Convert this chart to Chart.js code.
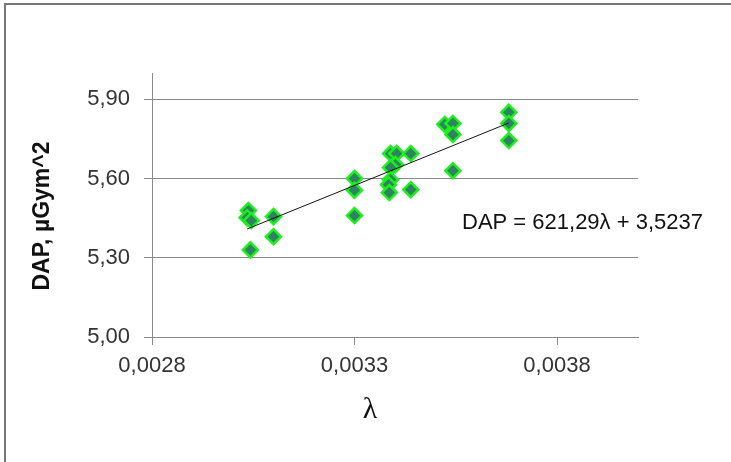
<!DOCTYPE html>
<html>
<head>
<meta charset="utf-8">
<script src="https://cdn.jsdelivr.net/npm/chart.js@4.4.1/dist/chart.umd.min.js"></script>
<style>
  html, body { margin: 0; padding: 0; background: #fff; }
  #wrap { position: relative; width: 731px; height: 462px; }
  #frame { position: absolute; left: 4px; top: 3px; width: 727px; height: 459px;
           border-top: 2px solid #777; border-left: 2px solid #777; box-sizing: border-box; pointer-events: none; }
  canvas { position: absolute; left: 0; top: 0; }
</style>
</head>
<body>
<div id="wrap">
  <canvas id="c" width="731" height="462"></canvas>
  <div id="frame"></div>
</div>
<script>
// ---- data ----
const lambdaValues = [0.003038, 0.003035, 0.003045, 0.003043, 0.0031, 0.0031,
                      0.0033, 0.0033, 0.0033,
                      0.003389, 0.003404, 0.003439, 0.003401, 0.003389, 0.003389, 0.003384, 0.003386, 0.003439,
                      0.003523, 0.003543, 0.003543, 0.003543,
                      0.003681, 0.003681, 0.003681];
const dapValues = [5.479, 5.452, 5.441, 5.330, 5.456, 5.380,
                   5.600, 5.556, 5.460,
                   5.695, 5.695, 5.695, 5.653, 5.642, 5.596, 5.577, 5.547, 5.558,
                   5.805, 5.809, 5.767, 5.630,
                   5.851, 5.809, 5.744];
const xTickValues = [0.0028, 0.0033, 0.0038];
const yTickValues = [5.00, 5.30, 5.60, 5.90];
const trendSlope = [621.29];
const trendIntercept = [3.5237];
const equationText = 'DAP = 621,29\u03bb + 3,5237';
const xTitle = '\u03bb';
const yTitle = 'DAP, \u00b5Gym^2';

const points = lambdaValues.map((x, i) => ({ x: x, y: dapValues[i] }));
const xMin = Math.min(...lambdaValues), xMax = Math.max(...lambdaValues);
const trend = [xMin, xMax].map(x => ({ x: x, y: trendSlope[0] * x + trendIntercept[0] }));

const FONT = "'Liberation Sans', Arial, sans-serif";

const textPlugin = {
  id: 'texts',
  afterDraw(chart) {
    const ctx = chart.ctx, a = chart.chartArea;
    ctx.save();
    // equation label
    ctx.fillStyle = '#111';
    ctx.font = '22px ' + FONT;
    ctx.textAlign = 'left';
    ctx.textBaseline = 'middle';
    ctx.fillText(equationText, a.right - 176, a.top + 150);
    // x title
    ctx.font = '30px "Liberation Serif", "Times New Roman", serif';
    ctx.textAlign = 'center';
    ctx.fillText(xTitle, a.left + 218, a.bottom + 73);
    // y title
    ctx.translate(43, a.top + 143);
    ctx.rotate(-Math.PI / 2);
    ctx.font = 'bold 23px ' + FONT;
    ctx.fillText(yTitle, 0, 0);
    ctx.restore();
  }
};

new Chart(document.getElementById('c'), {
  type: 'scatter',
  data: {
    datasets: [
      {
        type: 'line',
        data: trend,
        borderColor: '#111',
        borderWidth: 1,
        pointRadius: 0,
        fill: false,
        order: 0
      },
      {
        data: points,
        pointStyle: 'rectRot',
        pointRadius: 7.5,
        pointBackgroundColor: '#2e8460',
        pointBorderColor: '#1cf01c',
        pointBorderWidth: 2.5,
        order: 1
      }
    ]
  },
  options: {
    responsive: false,
    animation: false,
    layout: { padding: { left: 0, top: 73, right: 93, bottom: 0 } },
    plugins: { legend: { display: false }, tooltip: { enabled: false } },
    scales: {
      x: {
        type: 'linear',
        min: 0.0028,
        max: 0.0040,
        afterBuildTicks(s) { s.ticks = xTickValues.map(v => ({ value: v })); },
        afterFit(s) { s.height = 125; },
        grid: { drawOnChartArea: false, color: '#8a8a8a', tickLength: 8 },
        border: { color: '#8a8a8a', width: 1 },
        ticks: {
          color: '#333',
          font: { family: FONT, size: 22 },
          padding: 8,
          maxRotation: 0,
          callback: v => v.toFixed(4).replace('.', ',')
        }
      },
      y: {
        type: 'linear',
        min: 5.0,
        max: 6.0,
        afterBuildTicks(s) { s.ticks = yTickValues.map(v => ({ value: v })); },
        afterFit(s) { s.width = 152; },
        grid: { color: '#8a8a8a', tickLength: 8 },
        border: { color: '#8a8a8a', width: 1 },
        ticks: {
          color: '#333',
          font: { family: FONT, size: 22 },
          padding: 14,
          callback: v => v.toFixed(2).replace('.', ',')
        }
      }
    }
  },
  plugins: [textPlugin]
});
</script>
</body>
</html>
